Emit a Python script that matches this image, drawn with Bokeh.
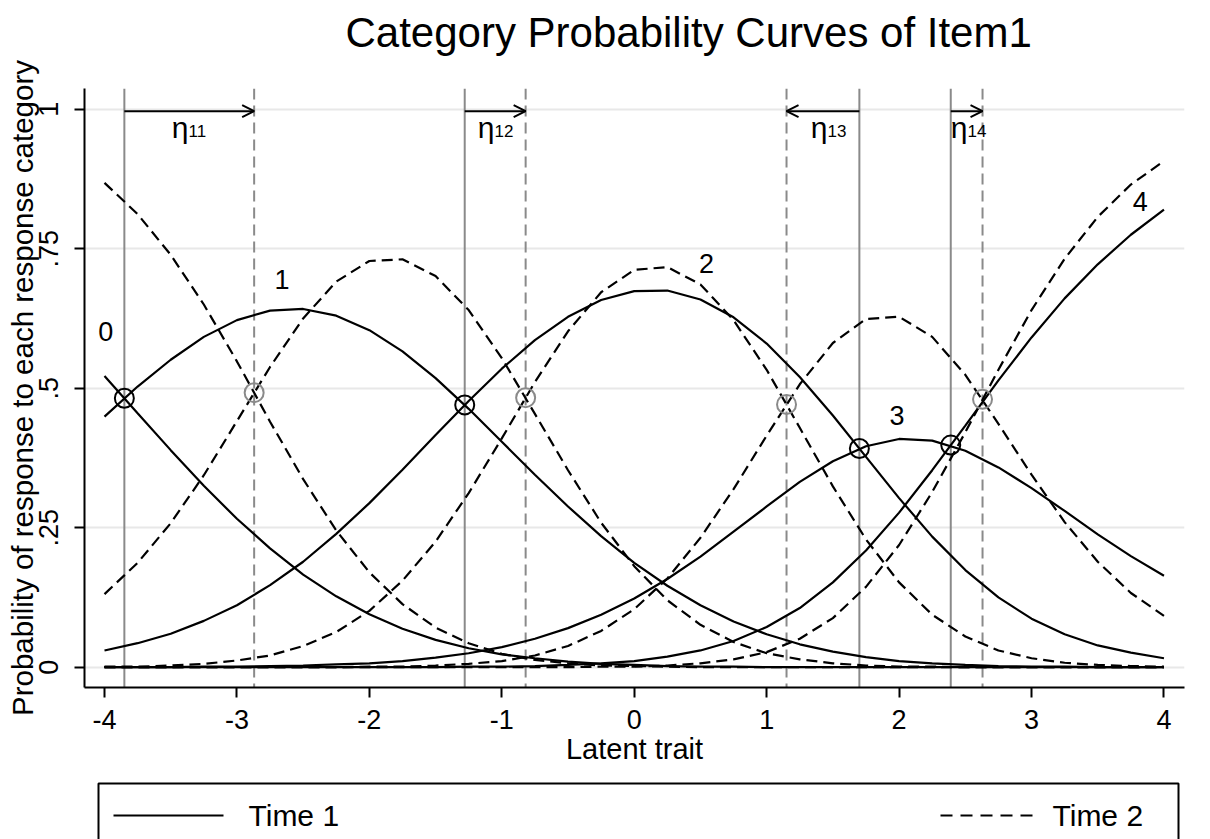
from bokeh.plotting import figure
from bokeh.layouts import column
from bokeh.models import Span, Arrow, OpenHead, FixedTicker, Range1d
from bokeh.core.properties import value
from bokeh.embed import file_html
from bokeh.resources import INLINE

FONT = "Liberation Sans"

# ---------------- data ----------------
theta = [-4.0, -3.75, -3.5, -3.25, -3.0, -2.75, -2.5, -2.25, -2.0, -1.75, -1.5,
         -1.25, -1.0, -0.75, -0.5, -0.25, 0.0, 0.25, 0.5, 0.75, 1.0, 1.25, 1.5,
         1.75, 2.0, 2.25, 2.5, 2.75, 3.0, 3.25, 3.5, 3.75, 4.0]

# Time 1 (solid)
t1_cat0 = [0.522, 0.455, 0.389, 0.325, 0.266, 0.213, 0.166, 0.127, 0.095, 0.069, 0.049,
           0.034, 0.023, 0.016, 0.010, 0.006, 0.004, 0.002, 0.001, 0.001, 0.000, 0.000,
           0.000, 0.000, 0.000, 0.000, 0.000, 0.000, 0.000, 0.000, 0.000, 0.000, 0.000]
t1_cat1 = [0.449, 0.503, 0.551, 0.592, 0.622, 0.639, 0.642, 0.630, 0.604, 0.566, 0.518,
           0.463, 0.404, 0.345, 0.288, 0.235, 0.187, 0.146, 0.111, 0.082, 0.059, 0.041,
           0.028, 0.018, 0.011, 0.007, 0.004, 0.002, 0.001, 0.001, 0.000, 0.000, 0.000]
t1_cat2 = [0.030, 0.043, 0.060, 0.083, 0.111, 0.147, 0.189, 0.239, 0.294, 0.354, 0.416,
           0.477, 0.535, 0.586, 0.628, 0.658, 0.674, 0.675, 0.659, 0.627, 0.580, 0.520,
           0.451, 0.377, 0.303, 0.234, 0.174, 0.125, 0.087, 0.059, 0.039, 0.026, 0.016]
t1_cat3 = [0.000, 0.000, 0.000, 0.001, 0.001, 0.002, 0.003, 0.005, 0.007, 0.011, 0.017,
           0.025, 0.036, 0.051, 0.070, 0.094, 0.123, 0.158, 0.198, 0.243, 0.288, 0.332,
           0.369, 0.396, 0.409, 0.406, 0.388, 0.358, 0.321, 0.280, 0.238, 0.199, 0.164]
t1_cat4 = [0.000, 0.000, 0.000, 0.000, 0.000, 0.000, 0.000, 0.000, 0.000, 0.000, 0.000,
           0.001, 0.001, 0.002, 0.004, 0.007, 0.011, 0.019, 0.030, 0.047, 0.072, 0.106,
           0.152, 0.209, 0.277, 0.353, 0.433, 0.514, 0.591, 0.661, 0.722, 0.775, 0.820]

# Time 2 (dashed)
t2_cat0 = [0.868, 0.812, 0.739, 0.650, 0.548, 0.440, 0.337, 0.245, 0.170, 0.113, 0.071,
           0.043, 0.024, 0.013, 0.007, 0.003, 0.002, 0.001, 0.000, 0.000, 0.000, 0.000,
           0.000, 0.000, 0.000, 0.000, 0.000, 0.000, 0.000, 0.000, 0.000, 0.000, 0.000]
t2_cat1 = [0.131, 0.187, 0.258, 0.344, 0.441, 0.538, 0.625, 0.691, 0.728, 0.731, 0.701,
           0.640, 0.554, 0.454, 0.353, 0.259, 0.181, 0.120, 0.076, 0.045, 0.025, 0.014,
           0.007, 0.003, 0.001, 0.001, 0.000, 0.000, 0.000, 0.000, 0.000, 0.000, 0.000]
t2_cat2 = [0.001, 0.001, 0.003, 0.006, 0.012, 0.021, 0.038, 0.063, 0.101, 0.155, 0.225,
           0.312, 0.410, 0.511, 0.602, 0.672, 0.712, 0.717, 0.686, 0.622, 0.533, 0.429,
           0.324, 0.229, 0.152, 0.094, 0.055, 0.030, 0.016, 0.008, 0.004, 0.002, 0.001]
t2_cat3 = [0.000, 0.000, 0.000, 0.000, 0.000, 0.000, 0.000, 0.000, 0.001, 0.001, 0.003,
           0.006, 0.011, 0.021, 0.038, 0.065, 0.104, 0.159, 0.232, 0.319, 0.415, 0.507,
           0.581, 0.624, 0.628, 0.592, 0.524, 0.436, 0.345, 0.260, 0.189, 0.133, 0.092]
t2_cat4 = [0.000, 0.000, 0.000, 0.000, 0.000, 0.000, 0.000, 0.000, 0.000, 0.000, 0.000,
           0.000, 0.000, 0.000, 0.000, 0.001, 0.001, 0.003, 0.007, 0.014, 0.027, 0.051,
           0.088, 0.144, 0.219, 0.314, 0.421, 0.533, 0.640, 0.732, 0.807, 0.865, 0.907]

# category-boundary (threshold) locations and crossing probabilities
t1_thresholds = [-3.85, -1.28, 1.70, 2.39]
t1_cross = [0.482, 0.470, 0.392, 0.398]
t2_thresholds = [-2.87, -0.82, 1.15, 2.63]
t2_cross = [0.492, 0.483, 0.471, 0.480]

cat_labels = ["0", "1", "2", "3", "4"]
cat_label_x = [-3.99, -2.66, 0.545, 1.985, 3.82]
cat_label_y = [0.602, 0.694, 0.723, 0.451, 0.835]

eta_subs = ["11", "12", "13", "14"]
eta_x = [-3.366, -1.055, 1.459, 2.516]
eta_sym_y = [0.968, 0.968, 0.968, 0.968]
eta_sub_y = [0.961, 0.961, 0.961, 0.961]
arrow_y = 0.9964

x_ticks = [-4, -3, -2, -1, 0, 1, 2, 3, 4]
x_tick_labels = ["-4", "-3", "-2", "-1", "0", "1", "2", "3", "4"]
y_ticks = [0, 0.25, 0.5, 0.75, 1]
y_tick_labels = ["0", ".25", ".5", ".75", "1"]

title_text = ["Category Probability Curves of Item1"]
legend_labels = ["Time 1", "Time 2"]


def strip(height):
    """A bare figure whose x coordinates equal page pixels."""
    f = figure(width=1210, height=height, x_range=Range1d(84, 1184),
               y_range=Range1d(0, height), output_backend="svg",
               toolbar_location=None, min_border_left=84, min_border_right=26,
               min_border_top=0, min_border_bottom=0,
               x_axis_type=None, y_axis_type=None)
    f.outline_line_color = None
    f.grid.visible = False
    return f


# ---------------- title strip ----------------
TH = 58
t = strip(TH)
t.text(x=[345], y=[TH - 32], text=title_text, text_align="left",
       text_baseline="middle", text_font=value(FONT), text_font_size="42px",
       text_color="black")

# ---------------- main figure ----------------
p = figure(width=1210, height=768 - TH, title=None,
           x_range=Range1d(-4.151, 4.155), y_range=Range1d(-0.0364, 1.0371),
           output_backend="svg", toolbar_location=None,
           min_border_left=84, min_border_right=26,
           min_border_top=88 - TH, min_border_bottom=81)
p.outline_line_color = None
p.background_fill_color = "white"

# grid
p.xgrid.visible = False
p.ygrid.ticker = FixedTicker(ticks=y_ticks)
p.ygrid.grid_line_color = "#e8e8e8"
p.ygrid.grid_line_width = 2

# axes
for ax in (p.xaxis[0], p.yaxis[0]):
    ax.axis_line_width = 2
    ax.axis_line_color = "black"
    ax.major_tick_line_width = 2
    ax.major_tick_line_color = "black"
    ax.major_tick_out = 10
    ax.major_tick_in = 0
    ax.minor_tick_out = 0
    ax.minor_tick_in = 0
    ax.major_label_text_font = FONT
    ax.major_label_text_font_size = "27px"
    ax.major_label_text_color = "black"
    ax.axis_label_text_font = FONT
    ax.axis_label_text_font_style = "normal"
    ax.axis_label_text_color = "black"

p.xaxis.ticker = FixedTicker(ticks=x_ticks)
p.xaxis.major_label_overrides = {t_: s for t_, s in zip(x_ticks, x_tick_labels)}
p.xaxis.axis_label = "Latent trait"
p.xaxis.axis_label_text_font_size = "29px"
p.xaxis.major_label_standoff = 12
p.xaxis.axis_label_standoff = 1

p.yaxis.ticker = FixedTicker(ticks=y_ticks)
p.yaxis.major_label_overrides = {t_: s for t_, s in zip(y_ticks, y_tick_labels)}
p.yaxis.major_label_orientation = "vertical"
p.yaxis.axis_label = "Probability of response to each response category"
p.yaxis.axis_label_text_font_size = "29.5px"
p.yaxis.major_label_standoff = 16
p.yaxis.axis_label_standoff = -2

# threshold verticals
for b in t1_thresholds:
    p.add_layout(Span(location=b, dimension="height", line_color="#8a8a8a",
                      line_width=2, level="underlay"))
for b in t2_thresholds:
    p.add_layout(Span(location=b, dimension="height", line_color="#8a8a8a",
                      line_width=2, line_dash="11 6", level="underlay"))

# curves
for ys in (t1_cat0, t1_cat1, t1_cat2, t1_cat3, t1_cat4):
    p.line(theta, ys, line_color="black", line_width=2.2)
for ys in (t2_cat0, t2_cat1, t2_cat2, t2_cat3, t2_cat4):
    p.line(theta, ys, line_color="black", line_width=2.2, line_dash="11 6")

# crossing markers
p.scatter(t1_thresholds, t1_cross, marker="circle", size=19, fill_color=None,
          line_color="black", line_width=2)
p.scatter(t2_thresholds, t2_cross, marker="circle", size=19, fill_color=None,
          line_color="#8a8a8a", line_width=2)

# shift arrows
for xs, xe in zip(t1_thresholds, t2_thresholds):
    p.add_layout(Arrow(end=OpenHead(size=12, line_width=2, line_color="black"),
                       x_start=xs, y_start=arrow_y, x_end=xe, y_end=arrow_y,
                       line_width=2, line_color="black"))

# eta labels
p.text(x=eta_x, y=eta_sym_y, text=["η"] * len(eta_x), text_align="right",
       text_baseline="middle", text_font=value(FONT), text_font_size="30px",
       text_color="black")
p.text(x=eta_x, y=eta_sub_y, text=eta_subs, text_align="left",
       text_baseline="middle", text_font=value(FONT), text_font_size="17px",
       text_color="black")

# category labels
p.text(x=cat_label_x, y=cat_label_y, text=cat_labels, text_align="center",
       text_baseline="middle", text_font=value(FONT), text_font_size="27px",
       text_color="black")

# ---------------- legend strip ----------------
q = strip(71)
q.quad(left=[98], right=[1178], top=[56], bottom=[-10], fill_color=None,
       line_color="black", line_width=2)
q.line([113, 223], [24, 24], line_color="black", line_width=2)
q.line([940, 1038], [24, 24], line_color="black", line_width=2, line_dash="12 8")
q.text(x=[248, 1052], y=[24, 24], text=legend_labels, text_align="left",
       text_baseline="middle", text_font=value(FONT), text_font_size="30px",
       text_color="black")

layout = column(t, p, q, spacing=0)
open("out.html", "w").write(file_html(layout, INLINE))
